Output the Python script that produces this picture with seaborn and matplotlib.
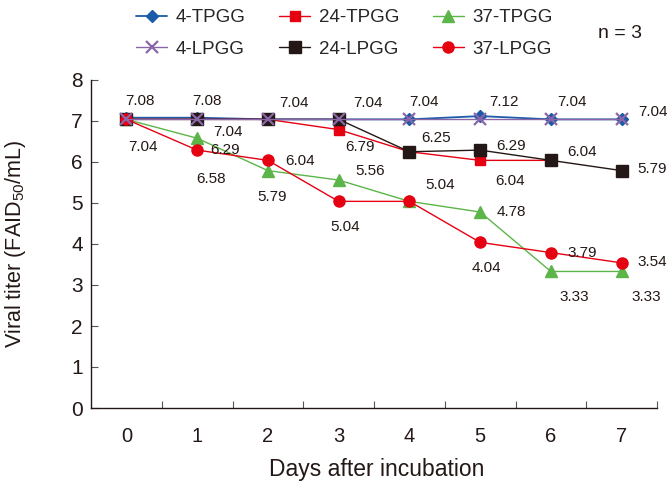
import matplotlib
matplotlib.use("Agg")
import matplotlib.pyplot as plt
import seaborn as sns
import numpy as np

# data
days = [0, 1, 2, 3, 4, 5, 6, 7]
tpgg_4 = [7.08, 7.08, 7.04, 7.04, 7.04, 7.12, 7.04, 7.04]
lpgg_4 = [7.04, 7.04, 7.04, 7.04, 7.04, 7.04, 7.04, 7.04]
tpgg_24 = [7.04, 7.04, 7.04, 6.79, 6.25, 6.04, 6.04]
lpgg_24 = [7.04, 7.04, 7.04, 7.04, 6.25, 6.29, 6.04, 5.79]
tpgg_37 = [7.04, 6.58, 5.79, 5.56, 5.04, 4.78, 3.33, 3.33]
lpgg_37 = [7.04, 6.29, 6.04, 5.04, 5.04, 4.04, 3.79, 3.54]

series = {
    "4-TPGG": tpgg_4,
    "4-LPGG": lpgg_4,
    "24-TPGG": tpgg_24,
    "24-LPGG": lpgg_24,
    "37-TPGG": tpgg_37,
    "37-LPGG": lpgg_37,
}

# styles
styles = {
    "4-TPGG": dict(color="#1c5ba8", marker="D", markersize=6.5, lw=1.3, mec="#1c5ba8"),
    "4-LPGG": dict(color="#8a66a8", marker="x", markersize=8, lw=1.0, mew=1.6, mec="#8a66a8"),
    "37-TPGG": dict(color="#5cb548", marker="^", markersize=8, lw=1.0, mec="#5cb548"),
    "24-TPGG": dict(color="#e50012", marker="s", markersize=7.5, lw=1.0, mec="#e50012"),
    "24-LPGG": dict(color="#231815", marker="s", markersize=8, lw=1.0, mec="#231815"),
    "37-LPGG": dict(color="#e50012", marker="o", markersize=8, lw=1.0, mec="#e50012"),
}
draw_order = ["4-TPGG", "37-TPGG", "24-TPGG", "24-LPGG", "37-LPGG", "4-LPGG"]
legend_order = ["4-TPGG", "4-LPGG", "24-TPGG", "24-LPGG", "37-TPGG", "37-LPGG"]

# value labels: (series, day index, dx, dy) offsets in pixels
value_labels = [
    ("4-TPGG", 0, 14, 17), ("4-TPGG", 1, 10, 17), ("4-TPGG", 2, 26, 16),
    ("4-TPGG", 3, 29, 16), ("4-TPGG", 4, 15, 17), ("4-TPGG", 5, 24, 14),
    ("4-TPGG", 6, 21, 17), ("4-TPGG", 7, 31, 7),
    ("37-LPGG", 0, 17, -28), ("24-LPGG", 1, 31, -13),
    ("37-LPGG", 1, 28, 0), ("37-TPGG", 1, 14, -41),
    ("37-LPGG", 2, 32, -1), ("37-TPGG", 2, 4, -26),
    ("24-TPGG", 3, 21, -17), ("37-TPGG", 3, 32, 9), ("37-LPGG", 3, 7, -26),
    ("24-LPGG", 4, 27, 14), ("37-TPGG", 4, 31, 16),
    ("24-LPGG", 5, 31, 4), ("24-TPGG", 5, 30, -21), ("37-TPGG", 5, 31, 0),
    ("37-LPGG", 5, 6, -26),
    ("24-LPGG", 6, 31, 8), ("37-LPGG", 6, 31, 0), ("37-TPGG", 6, 23, -26),
    ("24-LPGG", 7, 30, 2), ("37-LPGG", 7, 31, 1), ("37-TPGG", 7, 25, -26),
]

sns.set_style("ticks")
plt.rcParams["font.family"] = ["Liberation Sans", "DejaVu Sans"]
plt.rcParams["mathtext.fontset"] = "custom"
plt.rcParams["mathtext.rm"] = "Liberation Sans"

fig = plt.figure(figsize=(6.69, 4.86), dpi=100)
ax = fig.add_axes([91 / 669, 1 - 408 / 486, 566 / 669, 328 / 486])

handles = {}
for name in draw_order:
    vals = series[name]
    st = styles[name]
    sns.lineplot(x=days[:len(vals)], y=vals, ax=ax, color=st["color"], marker=st["marker"],
                 markersize=st["markersize"], linewidth=st["lw"], mec=st["mec"],
                 mew=st.get("mew", 1.0), label=name, legend=False)
    handles[name] = ax.lines[-1]

for name, i, dx, dy in value_labels:
    v = series[name][i]
    ax.annotate(f"{v:.2f}", (days[i], v), xytext=(dx, dy), textcoords="offset pixels",
                ha="center", va="center", fontsize=11, color="#231815")

ax.set_xlim(-0.5, 7.5)
ax.set_ylim(0, 8)
ax.set_yticks(range(0, 9))
ax.set_xticks(days)
ax.set_xticks(np.arange(0.5, 8, 1), minor=True)
ax.tick_params(axis="x", which="major", length=0, pad=14, labelsize=14.5, colors="#231815")
ax.tick_params(axis="x", which="minor", direction="in", length=5, width=0.8, color="#555555")
ax.tick_params(axis="y", direction="in", length=5, width=0.8, color="#555555", pad=6,
               labelsize=15, labelcolor="#231815")
sns.despine(ax=ax)
for s in ["left", "bottom"]:
    ax.spines[s].set_linewidth(1.0)
    ax.spines[s].set_color("#231815")

ax.set_xlabel("Days after incubation", fontsize=16.5, color="#231815")
ax.set_ylabel("Viral titer (FAID$_{50}$/mL)", fontsize=15.5, color="#231815")
ax.xaxis.set_label_coords(0.504, -0.152)
ax.yaxis.set_label_coords(-0.112, 0.5)

fig.legend([handles[n] for n in legend_order], legend_order, ncol=3, frameon=False,
           loc="upper left", bbox_to_anchor=(127 / 669, 1.0), fontsize=13.5,
           handlelength=1.65, handletextpad=0.45, columnspacing=1.8, labelspacing=0.75,
           borderaxespad=0.1)
fig.text(620 / 669, 1 - 33 / 486, "n = 3", ha="center", va="center", fontsize=14,
         color="#231815")

fig.savefig("out.png", dpi=100)
